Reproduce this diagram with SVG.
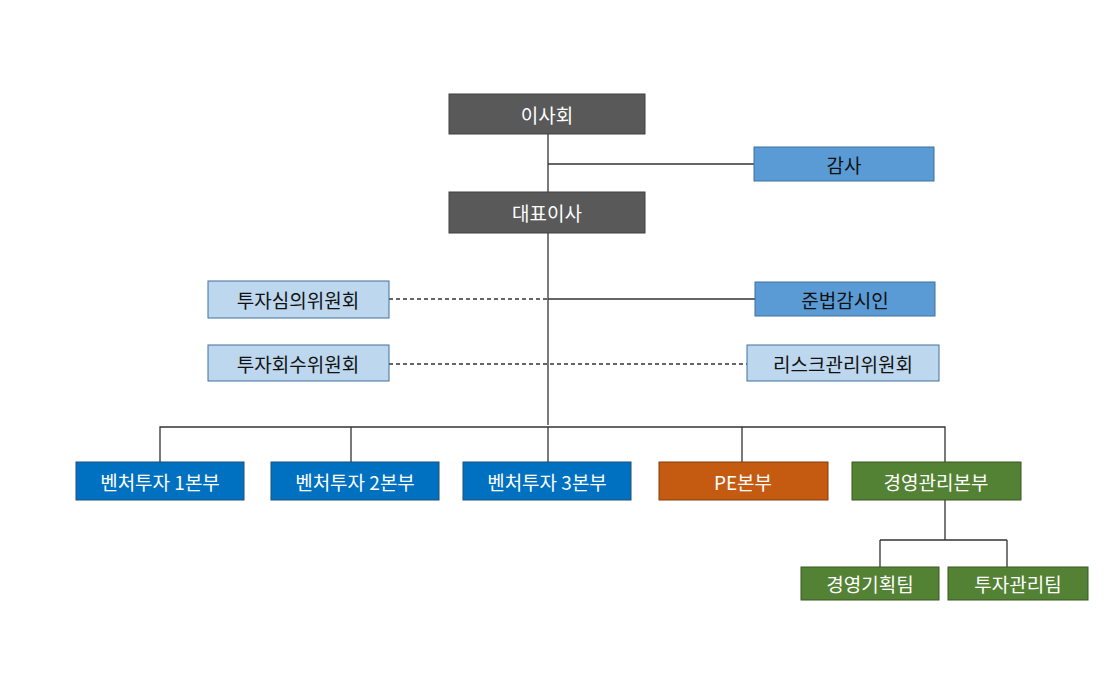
<svg xmlns="http://www.w3.org/2000/svg" width="1110" height="686" viewBox="0 0 1110 686">
<style>
text{font-family:"Noto Sans CJK KR","Noto Sans",sans-serif;font-size:19px;text-anchor:middle;dominant-baseline:central}
.dk rect{fill:#595959;stroke:#404040}.dk text{fill:#fff}
.mb rect{fill:#5b9bd5;stroke:#41719c}.mb text{fill:#111}
.pl rect{fill:#bdd7ee;stroke:#41719c}.pl text{fill:#111}
.bl rect{fill:#0070c0;stroke:#1f4e79}.bl text{fill:#fff}
.or rect{fill:#c55a11;stroke:#843c0c}.or text{fill:#fff}
.gr rect{fill:#548235;stroke:#385723}.gr text{fill:#fff}
.c{stroke:#333;stroke-width:1.3;fill:none}.d{stroke-dasharray:4 3}
</style>
<rect width="1110" height="686" fill="#fff"/>
<g id="connectors">
<path class="c" d="M548 134V425M548 164H754M548 299H755M160 500V427H945V462M351 427V462M548 427V462M742 427V462M945 500V540M880 540H1007M880 540V567M1007 540V567"/>
<path class="c d" d="M389 299H548M389 364H747"/>
</g>
<g id="n1" class="dk"><rect x="449" y="94" width="196" height="40"/><text x="547" y="114">이사회</text></g>
<g id="n2" class="mb"><rect x="754" y="147" width="180" height="34"/><text x="844" y="164">감사</text></g>
<g id="n3" class="dk"><rect x="449" y="192" width="196" height="41"/><text x="547" y="212">대표이사</text></g>
<g id="n4" class="pl"><rect x="208" y="281" width="181" height="37"/><text x="298" y="299">투자심의위원회</text></g>
<g id="n5" class="mb"><rect x="755" y="282" width="180" height="34"/><text x="845" y="299">준법감시인</text></g>
<g id="n6" class="pl"><rect x="208" y="345" width="181" height="36"/><text x="298" y="363">투자회수위원회</text></g>
<g id="n7" class="pl"><rect x="747" y="345" width="192" height="36"/><text x="843" y="363">리스크관리위원회</text></g>
<g id="n8" class="bl"><rect x="76" y="462" width="168" height="38"/><text x="160" y="481">벤처투자 1본부</text></g>
<g id="n9" class="bl"><rect x="271" y="462" width="168" height="38"/><text x="355" y="481">벤처투자 2본부</text></g>
<g id="n10" class="bl"><rect x="463" y="462" width="168" height="38"/><text x="547" y="481">벤처투자 3본부</text></g>
<g id="n11" class="or"><rect x="659" y="462" width="169" height="38"/><text x="743" y="481">PE본부</text></g>
<g id="n12" class="gr"><rect x="852" y="462" width="169" height="38"/><text x="936" y="481">경영관리본부</text></g>
<g id="n13" class="gr"><rect x="801" y="567" width="138" height="33"/><text x="870" y="583">경영기획팀</text></g>
<g id="n14" class="gr"><rect x="948" y="567" width="140" height="33"/><text x="1018" y="583">투자관리팀</text></g>
</svg>
